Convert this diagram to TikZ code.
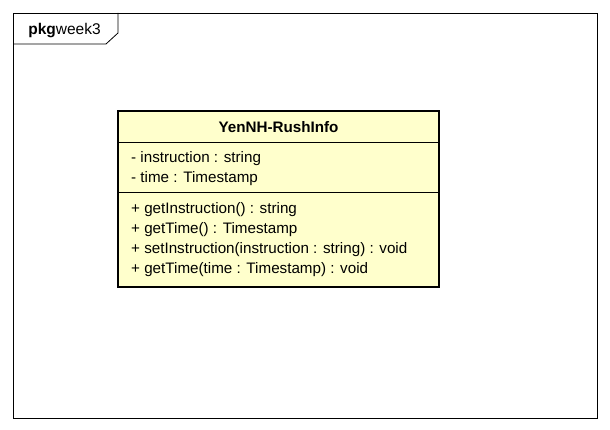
\documentclass[tikz,border=0pt]{standalone}
\usepackage{fontspec}
\setmainfont{Liberation Sans}
\begin{document}
\begin{tikzpicture}[x=1pt,y=-1pt,
  frameline/.style={draw=black,line width=0.8pt},
  classbox/.style={draw=black,line width=2.2pt,fill=umlyellow},
  sepline/.style={draw=black,line width=0.8pt},
  member/.style={anchor=west,inner sep=0pt,font=\fontsize{15.2}{17}\selectfont},
  title/.style={inner sep=0pt,font=\bfseries\fontsize{15.2}{17}\selectfont}]
\definecolor{umlyellow}{RGB}{255,255,204}
\useasboundingbox (0,0) rectangle (610,430);
\fill[white] (0,0) rectangle (610,430);
% package frame
\draw[frameline] (13,13) rectangle (597,418);
\coordinate (tabA) at (13,44);
\coordinate (tabB) at (106,44);
\coordinate (tabC) at (118,33);
\coordinate (tabD) at (118,13);
\draw[frameline] (tabA) -- (tabB) -- (tabC) -- (tabD);
\node[inner sep=0pt,font=\fontsize{15.5}{17}\selectfont] (pkg) at (64.5,31) {\textbf{pkg}week3};
% class
\draw[classbox] (118,111) rectangle (439,287);
\draw[sepline] (118,142) -- (439,142);
\draw[sepline] (118,192) -- (439,192);
\node[title] (cname) at (278.5,127.5) {YenNH-RushInfo};
\node[member] (a1) at (131,158.5) {- instruction : string};
\node[member] (a2) at (131,178.5) {- time : Timestamp};
\node[member] (m1) at (131,209.5) {+ getInstruction() : string};
\node[member] (m2) at (131,229.5) {+ getTime() : Timestamp};
\node[member] (m3) at (131,249.5) {+ setInstruction(instruction : string) : void};
\node[member] (m4) at (131,269.5) {+ getTime(time : Timestamp) : void};
\end{tikzpicture}
\end{document}
